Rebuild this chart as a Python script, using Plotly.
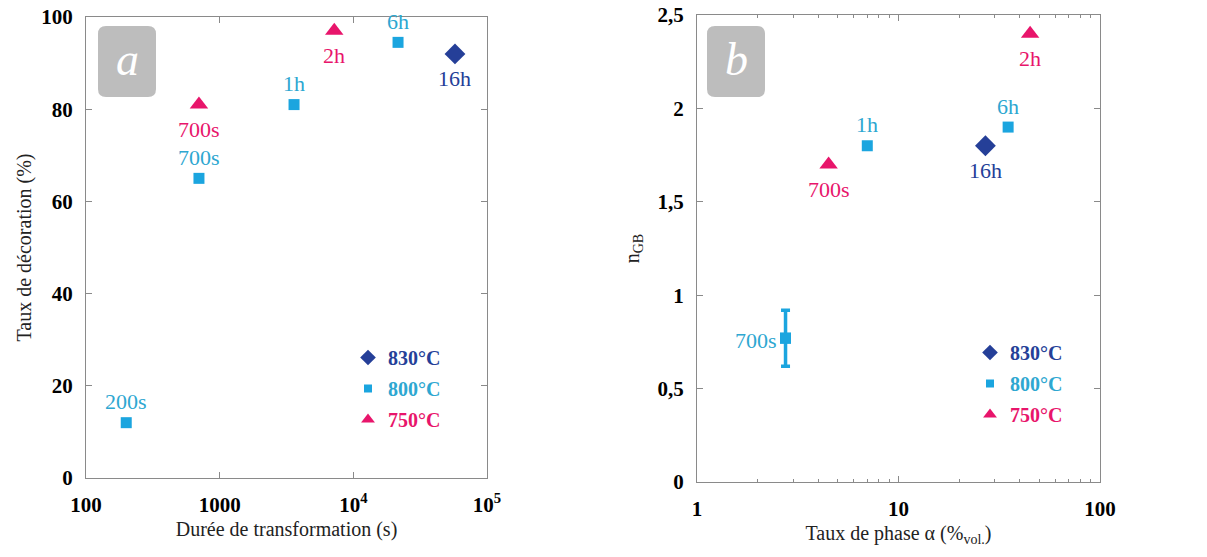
import math
import plotly.graph_objects as go

W, H = 1207, 557
BLUE = "#253F98"
CYAN = "#1BA5DF"
CYAN_TXT = "#2EA7D1"
PINK = "#E8156B"
SERIF = "Liberation Serif, DejaVu Serif, serif"

# ---------------- data: panel a ----------------
temps = ["830°C", "800°C", "750°C"]
a_830_t = [57600]
a_830_v = [92]
a_830_lab = ["16h"]
a_800_t = [200, 700, 3600, 21600]
a_800_v = [12, 65, 81, 94.5]
a_800_lab = ["200s", "700s", "1h", "6h"]
a_750_t = [700, 7200]
a_750_v = [81, 97]
a_750_lab = ["700s", "2h"]
a_xticks = [100, 1000, 1e4, 1e5]
a_xticktext = ["100", "1000", "10<sup>4</sup>", "10<sup>5</sup>"]
a_yticks = [0, 20, 40, 60, 80, 100]

# ---------------- data: panel b ----------------
b_830_x = [27]
b_830_v = [1.8]
b_830_lab = ["16h"]
b_800_x = [2.75, 7, 35]
b_800_v = [0.77, 1.8, 1.9]
b_800_err = [0.15, None, None]
b_800_lab = ["700s", "1h", "6h"]
b_750_x = [4.5, 45]
b_750_v = [1.7, 2.4]
b_750_lab = ["700s", "2h"]
b_xticks = [1, 10, 100]
b_xticktext = ["1", "10", "100"]
b_minor = [2, 3, 4, 5, 6, 7, 8, 9, 20, 30, 40, 50, 60, 70, 80, 90]
b_yticks = [0, 0.5, 1, 1.5, 2, 2.5]
b_yticktext = ["0", "0,5", "1", "1,5", "2", "2,5"]

# label placement (style)
a_800_pos = ["above", "above", "above", "above"]
a_750_pos = ["below", "below"]
a_830_pos = ["below"]
b_800_pos = ["left", "above", "above"]
b_750_pos = ["below", "below"]
b_830_pos = ["below"]


def px(x):
    return x / W


def py(y):
    return 1 - y / H


fig = go.Figure()

# (name, symbol, plot size, legend size, colour, text colour)
styles = [
    (temps[0], "diamond", 16, 12, BLUE, BLUE),
    (temps[1], "square", 11, 8, CYAN, CYAN_TXT),
    (temps[2], "triangle-up", 16, 12, PINK, PINK),
]
data_a = [(a_830_t, a_830_v), (a_800_t, a_800_v), (a_750_t, a_750_v)]
data_b = [(b_830_x, b_830_v), (b_800_x, b_800_v), (b_750_x, b_750_v)]

for (name, sym, sz, lsz, col, tcol), (xs, ys) in zip(styles, data_a):
    fig.add_trace(go.Scatter(
        x=xs, y=ys, mode="markers", xaxis="x", yaxis="y",
        marker=dict(symbol=sym, size=sz, color=col, line=dict(width=0)),
        showlegend=False, hoverinfo="skip"))
for (name, sym, sz, lsz, col, tcol), (xs, ys) in zip(styles, data_b):
    fig.add_trace(go.Scatter(
        x=xs, y=ys, mode="markers", xaxis="x2", yaxis="y2",
        marker=dict(symbol=sym, size=sz, color=col, line=dict(width=0)),
        showlegend=False, hoverinfo="skip"))

# legend entries (one legend per panel)
for lg, xa, ya in [("legend", "x", "y"), ("legend2", "x2", "y2")]:
    for i, (name, sym, sz, lsz, col, tcol) in enumerate(styles):
        fig.add_trace(go.Scatter(
            x=[None], y=[None], mode="markers", xaxis=xa, yaxis=ya,
            marker=dict(symbol=sym, size=lsz, color=col, line=dict(width=0)),
            name=f"<b><span style='color:{tcol}'>{name}</span></b>",
            legend=lg, legendgroup=f"{lg}{i}", hoverinfo="skip"))

# error bar for the point that has one
for xv, yv, ev in zip(b_800_x, b_800_v, b_800_err):
    if ev is not None:
        fig.add_trace(go.Scatter(
            x=[xv], y=[yv], mode="markers", xaxis="x2", yaxis="y2",
            marker=dict(symbol="square", size=11, color=CYAN),
            error_y=dict(type="data", array=[ev], color=CYAN, thickness=3.5, width=4.5),
            showlegend=False, hoverinfo="skip"))


# point labels
def add_labels(xs, ys, labs, poss, col, xref, yref):
    for xv, yv, lab, pos in zip(xs, ys, labs, poss):
        kw = dict(x=math.log10(xv), y=yv, text=lab, showarrow=False,
                  xref=xref, yref=yref,
                  font=dict(family=SERIF, size=22, color=col))
        if pos == "above":
            kw.update(yshift=21)
        elif pos == "below":
            kw.update(yshift=-25)
        elif pos == "left":
            kw.update(xanchor="right", xshift=-7, yshift=-2)
        fig.add_annotation(**kw)


add_labels(a_830_t, a_830_v, a_830_lab, a_830_pos, BLUE, "x", "y")
add_labels(a_800_t, a_800_v, a_800_lab, a_800_pos, CYAN_TXT, "x", "y")
add_labels(a_750_t, a_750_v, a_750_lab, a_750_pos, PINK, "x", "y")
add_labels(b_830_x, b_830_v, b_830_lab, b_830_pos, BLUE, "x2", "y2")
add_labels(b_800_x, b_800_v, b_800_lab, b_800_pos, CYAN_TXT, "x2", "y2")
add_labels(b_750_x, b_750_v, b_750_lab, b_750_pos, PINK, "x2", "y2")


# rounded grey boxes with panel letters
def rounded(x0, y0, x1, y1, r):
    X0, X1 = px(x0), px(x1)
    Y0, Y1 = py(y0), py(y1)
    rx, ry = r / W, r / H
    return (f"M{X0+rx},{Y0} L{X1-rx},{Y0} Q{X1},{Y0} {X1},{Y0-ry} "
            f"L{X1},{Y1+ry} Q{X1},{Y1} {X1-rx},{Y1} L{X0+rx},{Y1} "
            f"Q{X0},{Y1} {X0},{Y1+ry} L{X0},{Y0-ry} Q{X0},{Y0} {X0+rx},{Y0} Z")


for (x0, x1, letter) in [(98, 156, "a"), (707, 765, "b")]:
    fig.add_shape(type="path", xref="paper", yref="paper",
                  path=rounded(x0, 26, x1, 97, 8),
                  fillcolor="#BDBDBD", line=dict(width=0), layer="below")
    fig.add_annotation(x=px((x0 + x1) / 2), y=py(60), xref="paper", yref="paper",
                       xanchor="center", yanchor="middle",
                       text=f"<i>{letter}</i>", showarrow=False,
                       font=dict(family=SERIF, size=46, color="white"))

axis_common = dict(showline=True, linecolor="#8a8a8a", linewidth=1, mirror="ticks",
                   ticks="inside", ticklen=6, tickcolor="#8a8a8a", showgrid=False,
                   zeroline=False, ticklabelstandoff=8, automargin=False,
                   tickfont=dict(family=SERIF, size=21, color="black", weight="bold"))

fig.update_layout(
    width=W, height=H, margin=dict(l=0, r=0, t=0, b=0, autoexpand=False),
    paper_bgcolor="white", plot_bgcolor="white",
    xaxis=dict(axis_common, type="log", range=[2, 5], domain=[px(86), px(487)],
               anchor="y", tickvals=a_xticks, ticktext=a_xticktext,
               title=dict(text="Durée de transformation (s)", standoff=5,
                          font=dict(family=SERIF, size=20, color="#222"))),
    yaxis=dict(axis_common, range=[0, 100], domain=[py(478), py(17)], anchor="x",
               tickvals=a_yticks,
               title=dict(text="Taux de décoration (%)", standoff=4,
                          font=dict(family=SERIF, size=20, color="#222"))),
    xaxis2=dict(axis_common, type="log", range=[0, 2], domain=[px(697), px(1100)],
                anchor="y2", tickvals=b_xticks, ticktext=b_xticktext,
                minor=dict(tickvals=b_minor, ticks="inside", ticklen=3, tickcolor="#8a8a8a"),
                title=dict(text="Taux de phase α (%<sub>vol.</sub>)", standoff=5,
                           font=dict(family=SERIF, size=20, color="#222"))),
    yaxis2=dict(axis_common, range=[0, 2.5], domain=[py(482), py(15)], anchor="x2",
                tickvals=b_yticks, ticktext=b_yticktext,
                title=dict(text="n<sub>GB</sub>", standoff=12,
                           font=dict(family=SERIF, size=20, color="#222"))),
    legend=dict(x=px(348), y=py(338), xanchor="left", yanchor="top",
                bgcolor="rgba(0,0,0,0)", traceorder="grouped", tracegroupgap=2,
                font=dict(family=SERIF, size=20), itemsizing="trace"),
    legend2=dict(x=px(970), y=py(333), xanchor="left", yanchor="top",
                 bgcolor="rgba(0,0,0,0)", traceorder="grouped", tracegroupgap=2,
                 font=dict(family=SERIF, size=20), itemsizing="trace"),
)

fig.write_html("out.html", config={"displayModeBar": False},
               post_script="document.body.style.margin='0';")
